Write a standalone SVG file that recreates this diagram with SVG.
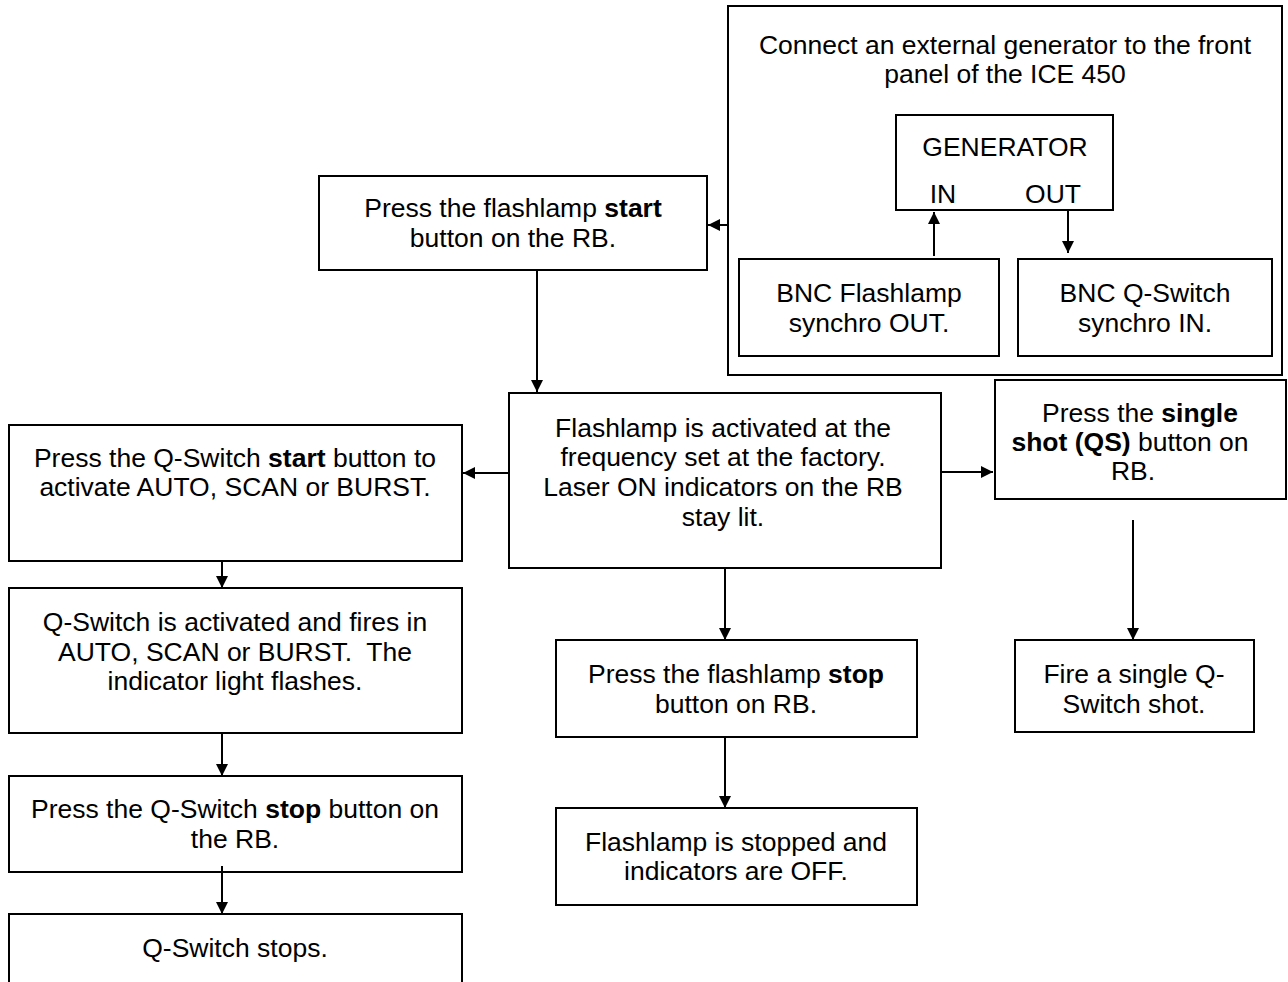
<svg xmlns="http://www.w3.org/2000/svg" width="1288" height="982" viewBox="0 0 1288 982">
  <style>
    .box { fill: #ffffff; stroke: #000000; stroke-width: 2; }
    .t { font-family: "Liberation Sans", Arial, sans-serif; font-size: 26.5px; fill: #000000; text-anchor: middle; }
    .b { font-weight: bold; }
    .c { stroke: #000000; stroke-width: 2; fill: none; marker-end: url(#arrow); }
  </style>
  <defs>
    <marker id="arrow" viewBox="0 0 12 12" refX="12" refY="6" markerWidth="12" markerHeight="12" markerUnits="userSpaceOnUse" orient="auto">
      <path d="M0,0 L12,6 L0,12 Z" fill="#000000"/>
    </marker>
  </defs>

  <g id="connect-panel">
    <rect class="box" x="728" y="6" width="554" height="369"/>
    <text class="t" x="1005" y="54">Connect an external generator to the front</text>
    <text class="t" x="1005" y="83">panel of the ICE 450</text>
  </g>
  <g id="generator">
    <rect class="box" x="896" y="115" width="217" height="95"/>
    <text class="t" x="1005" y="156">GENERATOR</text>
    <text class="t" x="943" y="203">IN</text>
    <text class="t" x="1053" y="203">OUT</text>
  </g>
  <g id="bnc-flashlamp">
    <rect class="box" x="739" y="259" width="260" height="97"/>
    <text class="t" x="869" y="302">BNC Flashlamp</text>
    <text class="t" x="869" y="332">synchro OUT.</text>
  </g>
  <g id="bnc-qswitch">
    <rect class="box" x="1018" y="259" width="254" height="97"/>
    <text class="t" x="1145" y="302">BNC Q-Switch</text>
    <text class="t" x="1145" y="332">synchro IN.</text>
  </g>
  <g id="flashlamp-start">
    <rect class="box" x="319" y="176" width="388" height="94"/>
    <text class="t" x="513" y="217">Press the flashlamp <tspan class="b">start</tspan></text>
    <text class="t" x="513" y="247">button on the RB.</text>
  </g>
  <g id="flashlamp-active">
    <rect class="box" x="509" y="393" width="432" height="175"/>
    <text class="t" x="723" y="437">Flashlamp is activated at the</text>
    <text class="t" x="723" y="466">frequency set at the factory.</text>
    <text class="t" x="723" y="496">Laser ON indicators on the RB</text>
    <text class="t" x="723" y="526">stay lit.</text>
  </g>
  <g id="qswitch-start">
    <rect class="box" x="9" y="425" width="453" height="136"/>
    <text class="t" x="235" y="467">Press the Q-Switch <tspan class="b">start</tspan> button to</text>
    <text class="t" x="235" y="496">activate AUTO, SCAN or BURST.</text>
  </g>
  <g id="qswitch-active">
    <rect class="box" x="9" y="588" width="453" height="145"/>
    <text class="t" x="235" y="631">Q-Switch is activated and fires in</text>
    <text class="t" x="235" y="661">AUTO, SCAN or BURST.&#160; The</text>
    <text class="t" x="235" y="690">indicator light flashes.</text>
  </g>
  <g id="qswitch-stop">
    <rect class="box" x="9" y="776" width="453" height="96"/>
    <text class="t" x="235" y="818">Press the Q-Switch <tspan class="b">stop</tspan> button on</text>
    <text class="t" x="235" y="848">the RB.</text>
  </g>
  <g id="qswitch-stops">
    <rect class="box" x="9" y="914" width="453" height="80"/>
    <text class="t" x="235" y="957">Q-Switch stops.</text>
  </g>
  <g id="single-shot">
    <rect class="box" x="995" y="380" width="291" height="119"/>
    <text class="t" x="1140" y="422">Press the <tspan class="b">single</tspan></text>
    <text class="t" x="1130" y="451"><tspan class="b">shot (QS)</tspan> button on</text>
    <text class="t" x="1133" y="480">RB.</text>
  </g>
  <g id="fire-single">
    <rect class="box" x="1015" y="640" width="239" height="92"/>
    <text class="t" x="1134" y="683">Fire a single Q-</text>
    <text class="t" x="1134" y="713">Switch shot.</text>
  </g>
  <g id="flashlamp-stop">
    <rect class="box" x="556" y="640" width="361" height="97"/>
    <text class="t" x="736" y="683">Press the flashlamp <tspan class="b">stop</tspan></text>
    <text class="t" x="736" y="713">button on RB.</text>
  </g>
  <g id="flashlamp-stopped">
    <rect class="box" x="556" y="808" width="361" height="97"/>
    <text class="t" x="736" y="851">Flashlamp is stopped and</text>
    <text class="t" x="736" y="880">indicators are OFF.</text>
  </g>

  <g id="connectors">
    <line class="c" x1="934" y1="256" x2="934" y2="212"/>
    <line class="c" x1="1068" y1="211" x2="1068" y2="253"/>
    <line class="c" x1="728" y1="225" x2="708" y2="225"/>
    <line class="c" x1="537" y1="271" x2="537" y2="392"/>
    <line class="c" x1="509" y1="473" x2="463" y2="473"/>
    <line class="c" x1="941" y1="472" x2="993" y2="472"/>
    <line class="c" x1="222" y1="562" x2="222" y2="588"/>
    <line class="c" x1="222" y1="734" x2="222" y2="776"/>
    <line class="c" x1="222" y1="866" x2="222" y2="914"/>
    <line class="c" x1="725" y1="569" x2="725" y2="640"/>
    <line class="c" x1="725" y1="738" x2="725" y2="808"/>
    <line class="c" x1="1133" y1="520" x2="1133" y2="640"/>
  </g>
</svg>
